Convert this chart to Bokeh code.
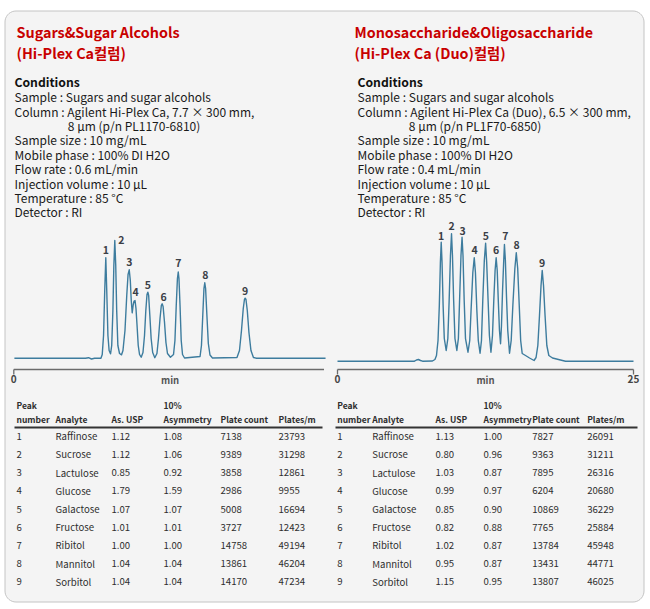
import numpy as np
from bokeh.plotting import figure
from bokeh.models import Range1d, ColumnDataSource
from bokeh.core.properties import value
from bokeh.embed import file_html
from bokeh.resources import INLINE

# ---------------- data ----------------
peak_numbers = ["1", "2", "3", "4", "5", "6", "7", "8", "9"]
analytes = ["Raffinose", "Sucrose", "Lactulose", "Glucose", "Galactose",
            "Fructose", "Ribitol", "Mannitol", "Sorbitol"]

# Hi-Plex Ca table
ca_as_usp = [1.12, 1.12, 0.85, 1.79, 1.07, 1.01, 1.00, 1.04, 1.04]
ca_asym10 = [1.08, 1.06, 0.92, 1.59, 1.07, 1.01, 1.00, 1.04, 1.04]
ca_plate_count = [7138, 9389, 3858, 2986, 5008, 3727, 14758, 13861, 14170]
ca_plates_per_m = [23793, 31298, 12861, 9955, 16694, 12423, 49194, 46204, 47234]

# Hi-Plex Ca (Duo) table
duo_as_usp = [1.13, 0.80, 1.03, 0.99, 0.85, 0.82, 1.02, 0.95, 1.15]
duo_asym10 = [1.00, 0.96, 0.87, 0.97, 0.90, 0.88, 0.87, 0.87, 0.95]
duo_plate_count = [7827, 9363, 7895, 6204, 10869, 7765, 13784, 13431, 13807]
duo_plates_per_m = [26091, 31211, 26316, 20680, 36229, 25884, 45948, 44771, 46025]

# Chromatogram traces (time in min, detector response)
ca_time = [0.05, 6.06, 6.31, 6.56, 6.82, 7.36,
           7.47, 7.58, 7.68, 7.77, 7.85, 7.95, 8.05, 8.17,
           8.27, 8.37, 8.45, 8.53, 8.61, 8.69, 8.79, 8.93, 9.10,
           9.22, 9.39, 9.54, 9.65, 9.75, 9.84, 9.92, 10.00,
           10.09, 10.16, 10.24, 10.32, 10.41, 10.51, 10.62, 10.76,
           10.91, 11.04, 11.15, 11.25, 11.32, 11.39, 11.49, 11.60, 11.73, 11.91,
           12.09, 12.22, 12.35, 12.46, 12.53, 12.61, 12.73, 12.85, 12.98, 13.23,
           13.49, 13.61, 13.72, 13.82, 13.89, 13.95, 14.04, 14.14, 14.25, 14.42,
           15.73, 15.85, 15.96, 16.06, 16.13, 16.20, 16.31, 16.43, 16.57, 16.78,
           18.85, 19.06, 19.23, 19.38, 19.48, 19.54, 19.61, 19.72, 19.86, 20.03, 20.24, 20.50,
           21.09, 26.33]
ca_signal = [0, 0, 0.5, -0.8, 0, 0,
             3.7, 22.7, 67.7, 100.4, 67.7, 22.7, 7.7, 4.4,
             12.7, 47.7, 92.7, 117.7, 92.7, 47.7, 12.7, 4.7, 3.4,
             7.7, 27.7, 62.7, 83.7, 88.4, 77.7, 57.7, 45.4,
             53.7, 57.2, 57.7, 49.7, 32.7, 12.7, 3.7, 1.0,
             5.7, 22.7, 47.7, 63.7, 66.0, 62.7, 42.7, 19.7, 5.7, 0.5,
             4.7, 19.7, 39.7, 52.7, 54.4, 51.7, 35.7, 15.7, 4.7, 1.0,
             3.7, 17.7, 52.7, 79.7, 86.2, 79.7, 52.7, 17.7, 3.7, 0.2,
             1.7, 12.7, 42.7, 69.7, 75.4, 69.7, 42.7, 14.7, 3.2, 0.2,
             0.7, 7.7, 27.7, 49.7, 58.7, 60.0, 58.7, 47.7, 25.7, 7.7, 0.7, 0,
             0, 0]

duo_time = [0.0, 6.50, 6.67, 6.84, 7.01, 7.18, 8.02, 8.23, 8.36,
            8.49, 8.60, 8.69, 8.76, 8.83, 8.92, 9.02, 9.18,
            9.32, 9.43, 9.54, 9.63, 9.71, 9.81, 9.92, 10.08,
            10.21, 10.31, 10.43, 10.52, 10.60, 10.70, 10.81, 11.02,
            11.17, 11.28, 11.43, 11.55, 11.65, 11.77, 11.89, 12.04,
            12.16, 12.27, 12.40, 12.51, 12.60, 12.72, 12.83, 12.96,
            13.09, 13.20, 13.31, 13.40, 13.49, 13.58, 13.68, 13.77,
            13.85, 13.94, 14.04, 14.10, 14.18, 14.27, 14.38, 14.53,
            14.67, 14.81, 14.98, 15.10, 15.22, 15.35, 15.47, 15.60, 15.88, 16.22, 16.60,
            16.77, 16.92, 17.06, 17.19, 17.29, 17.40, 17.53, 17.68, 17.85, 18.16, 18.50, 18.83, 19.26,
            25.00]
duo_signal = [0, 0, 1.2, 1.7, 0.7, 0, 0.2, 1.7, 5.7,
              20.7, 55.7, 98.7, 119.0, 98.7, 55.7, 22.7, 10.7,
              22.7, 60.7, 105.7, 127.4, 105.7, 60.7, 22.7, 10.7,
              22.7, 60.7, 105.7, 124.0, 105.7, 60.7, 22.7, 9.0,
              20.7, 50.7, 88.7, 103.4, 88.7, 50.7, 20.7, 8.0,
              20.7, 60.7, 100.7, 118.0, 98.7, 60.7, 25.7, 9.0,
              25.7, 60.7, 90.7, 103.4, 90.7, 60.7, 30.7, 17.4,
              35.7, 70.7, 100.7, 116.7, 100.7, 65.7, 30.7, 8.0,
              20.7, 55.7, 92.7, 108.4, 92.7, 55.7, 20.7, 7.7, 5.7, 3.2, 0.7,
              3.7, 15.7, 45.7, 75.7, 90.7, 75.7, 45.7, 15.7, 5.7, 3.2, 2.2, 1.2, 0,
              0]

# Peak apexes (for peak-number labels)
ca_peak_rt = [7.77, 8.53, 9.75, 10.24, 11.32, 12.53, 13.89, 16.13, 19.54]
ca_peak_h = [100.4, 117.7, 88.4, 57.7, 66.0, 54.4, 86.2, 75.4, 60.0]
duo_peak_rt = [8.76, 9.63, 10.52, 11.55, 12.51, 13.40, 14.10, 15.10, 17.29]
duo_peak_h = [119.0, 127.4, 124.0, 103.4, 118.0, 103.4, 116.7, 108.4, 90.7]

ca_axis_ticks = [0]
ca_axis_end = 26.2
duo_axis_ticks = [0, 25]
duo_axis_end = 25

# ---------------- layout constants ----------------
W, H = 646, 606
PX_PER_MIN = 11.84
CA_X0, DUO_X0 = 13.3, 337.0         # pixel of t = 0
CA_BASE, DUO_BASE = 357.7, 360.7    # pixel of signal = 0
PX_PER_UNIT = 1.0
AXIS_Y = 369.0

TITLE_FONT = "Noto Sans CJK KR"
COND_FONT = "Noto Sans CJK KR"
TBL_FONT = "Noto Sans CJK KR"

p = figure(width=W, height=H, output_backend="svg", toolbar_location=None,
           x_range=Range1d(0, W), y_range=Range1d(H, 0),
           x_axis_type=None, y_axis_type=None, min_border=0,
           outline_line_color=None)
p.background_fill_color = "white"
p.border_fill_color = "white"

p.extra_x_ranges = {
    "ca_t": Range1d((0 - CA_X0) / PX_PER_MIN, (W - CA_X0) / PX_PER_MIN),
    "duo_t": Range1d((0 - DUO_X0) / PX_PER_MIN, (W - DUO_X0) / PX_PER_MIN),
}
p.extra_y_ranges = {
    "ca_s": Range1d((CA_BASE - H) / PX_PER_UNIT, CA_BASE / PX_PER_UNIT),
    "duo_s": Range1d((DUO_BASE - H) / PX_PER_UNIT, DUO_BASE / PX_PER_UNIT),
}


# ---------------- panel ----------------
def rounded_rect(x0, y0, x1, y1, r, n=10):
    xs, ys = [], []
    corners = [(x1 - r, y0 + r, -90, 0), (x1 - r, y1 - r, 0, 90),
               (x0 + r, y1 - r, 90, 180), (x0 + r, y0 + r, 180, 270)]
    for cx, cy, a0, a1 in corners:
        a = np.radians(np.linspace(a0, a1, n))
        xs += list(cx + r * np.cos(a))
        ys += list(cy + r * np.sin(a))
    return xs, ys


bx, by = rounded_rect(4.5, 10.5, 643.5, 601.5, 11)
p.patch(bx, by, fill_color="#f4f4f4", line_color="#c4c4c4", line_width=1)


def txt(xs, ys, texts, size, font, color, bold=False, align="left",
        baseline="middle", xr="default", yr="default", xo=None, yo=None):
    n = len(texts)
    src = ColumnDataSource(dict(x=list(xs), y=list(ys), t=list(texts),
                                xo=list(xo) if xo is not None else [0] * n,
                                yo=list(yo) if yo is not None else [0] * n))
    p.text(x="x", y="y", text="t", source=src, text_font=value(font),
           text_font_size=value(f"{size}px"), text_color=color,
           text_font_style="bold" if bold else "normal",
           text_align=align, text_baseline=baseline,
           x_offset="xo", y_offset="yo",
           x_range_name=xr, y_range_name=yr)


# ---------------- titles ----------------
RED = "#c80000"
txt([16, 16], [31, 52], ["Sugars&Sugar Alcohols", "(Hi-Plex Ca컬럼)"],
    14.4, TITLE_FONT, RED, bold=True)
txt([354, 354], [31, 52], ["Monosaccharide&Oligosaccharide", "(Hi-Plex Ca (Duo)컬럼)"],
    14.3, TITLE_FONT, RED, bold=True)

# ---------------- conditions ----------------
cond_y = [96, 110.5, 125, 139, 153.5, 168, 182.5, 197, 211]
ca_cond = ["Sample : Sugars and sugar alcohols",
           "Column : Agilent Hi-Plex Ca, 7.7 × 300 mm,",
           "8 µm (p/n PL1170-6810)",
           "Sample size : 10 mg/mL",
           "Mobile phase : 100% DI H2O",
           "Flow rate : 0.6 mL/min",
           "Injection volume : 10 µL",
           "Temperature : 85 °C",
           "Detector : RI"]
duo_cond = ["Sample : Sugars and sugar alcohols",
            "Column : Agilent Hi-Plex Ca (Duo), 6.5 × 300 mm,",
            "8 µm (p/n PL1F70-6850)",
            "Sample size : 10 mg/mL",
            "Mobile phase : 100% DI H2O",
            "Flow rate : 0.4 mL/min",
            "Injection volume : 10 µL",
            "Temperature : 85 °C",
            "Detector : RI"]
for x0, indent, lines in [(14, 67.3, ca_cond), (357, 408.3, duo_cond)]:
    txt([x0], [81], ["Conditions"], 12.2, COND_FONT, "#111111", bold=True)
    xs = [indent if i == 2 else x0 for i in range(len(lines))]
    txt(xs, cond_y, lines, 12, COND_FONT, "#1a1a1a")

# ---------------- chromatograms ----------------
TRACE = "#3d7c9e"
AXIS_C = "#6b6b6b"
LABEL_C = "#3b3f47"
charts = [
    ("ca_t", "ca_s", ca_time, ca_signal, ca_peak_rt, ca_peak_h, ca_axis_ticks,
     ca_axis_end, [0, 6.5, 0, 0.5, 0, 1.5, 0, 0.5, 0], [-7.5, -1, -7.5, -8.3, -7.7, -7.3, -8.8, -8.3, -7]),
    ("duo_t", "duo_s", duo_time, duo_signal, duo_peak_rt, duo_peak_h, duo_axis_ticks,
     duo_axis_end, [0, 0, 0.5, 0.3, 0.3, 0, 1, 0.2, 0], [-6.7, -8.3, -6.7, -8, -7.7, -8, -9, -8.3, -7.3]),
]
for xr, yr, t, s, prt, ph, ticks, aend, xo, yo in charts:
    p.line(t, s, x_range_name=xr, y_range_name=yr, line_color=TRACE,
           line_width=1.4, line_join="round")
    txt(prt, ph, peak_numbers, 10.5, TBL_FONT, LABEL_C, bold=True, align="center",
        baseline="middle", xr=xr, yr=yr, xo=xo, yo=yo)
    # time axis
    p.segment(x0=[0], y0=[AXIS_Y], x1=[aend], y1=[AXIS_Y], x_range_name=xr,
              line_color=AXIS_C, line_width=1.3)
    p.segment(x0=ticks, y0=[AXIS_Y] * len(ticks), x1=ticks, y1=[AXIS_Y + 5] * len(ticks),
              x_range_name=xr, line_color=AXIS_C, line_width=1.3)
    txt(ticks, [378] * len(ticks), [str(v) for v in ticks], 10, TBL_FONT, "#444444",
        bold=True, align="center", xr=xr)
    txt([13.2 if xr == "ca_t" else 12.5], [379], ["min"], 9.5, TBL_FONT, "#555555",
        bold=True, align="center", xr=xr)

# ---------------- tables ----------------
row_y = [435.7 + 18.2 * i for i in range(9)]
TBL_C = "#2e2e2e"
HDR_SIZE = 8.5
tables = [
    ([16, 55, 111, 163, 220, 278], (14, 322), ca_as_usp, ca_asym10, ca_plate_count, ca_plates_per_m),
    ([336.7, 371.7, 435, 483, 531.7, 586.7], (335, 637), duo_as_usp, duo_asym10, duo_plate_count, duo_plates_per_m),
]
for cols, (lx0, lx1), asu, asy, pc, ppm in tables:
    txt([cols[0], cols[3]], [404, 404], ["Peak", "10%"], HDR_SIZE, TBL_FONT, TBL_C, bold=True)
    txt(cols, [418] * 6, ["number", "Analyte", "As. USP", "Asymmetry", "Plate count", "Plates/m"],
        HDR_SIZE, TBL_FONT, TBL_C, bold=True)
    p.segment(x0=[lx0], y0=[427], x1=[lx1], y1=[427], line_color="#333333", line_width=2)
    columns = [peak_numbers, analytes, [f"{v:.2f}" for v in asu], [f"{v:.2f}" for v in asy],
               [str(v) for v in pc], [str(v) for v in ppm]]
    for cx, vals in zip(cols, columns):
        txt([cx] * 9, row_y, vals, 9.6, TBL_FONT, TBL_C)

open("out.html", "w").write(file_html(p, INLINE))
